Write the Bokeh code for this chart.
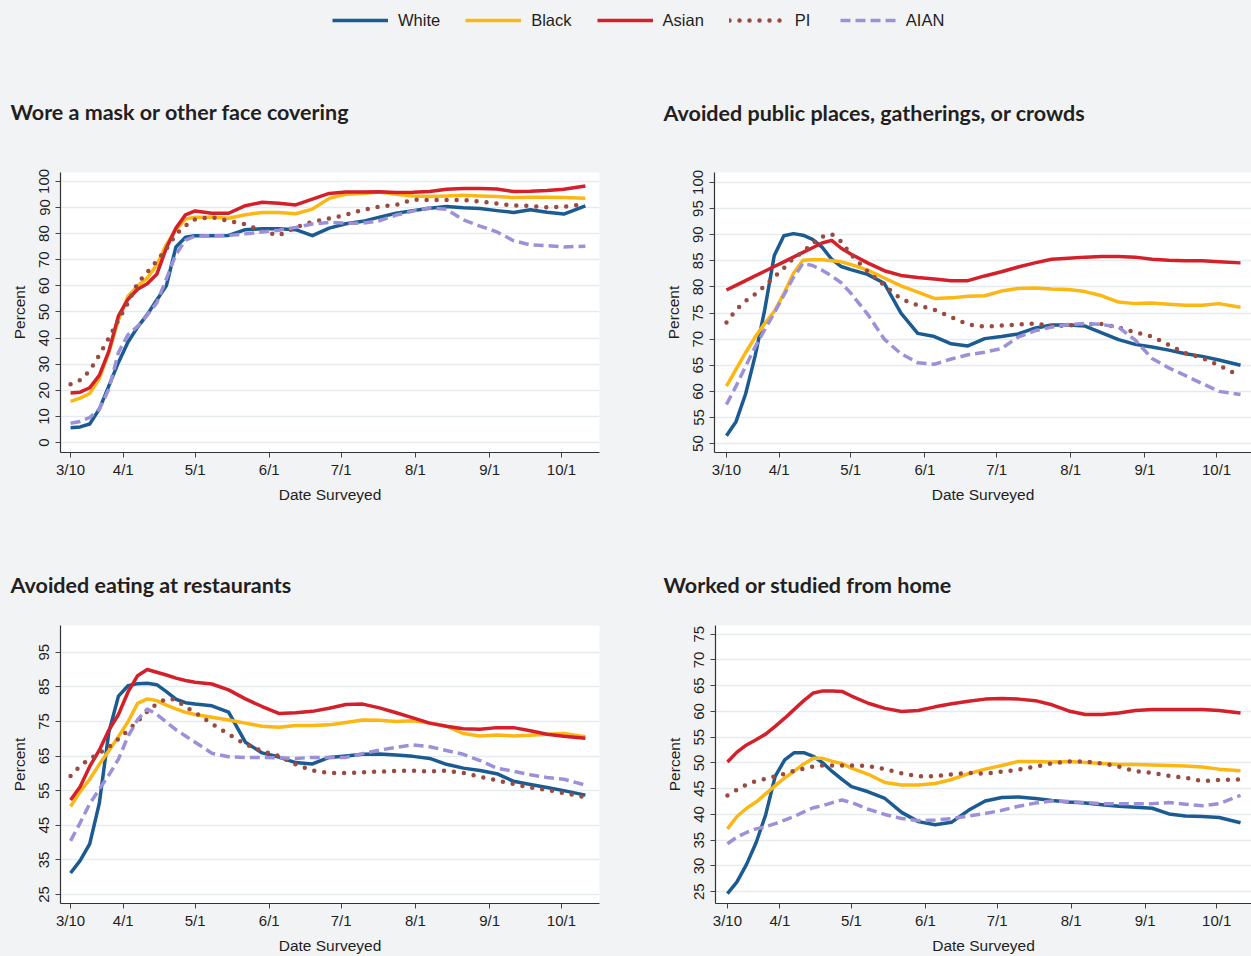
import pandas as pd
from bokeh.plotting import figure
from bokeh.layouts import column, row
from bokeh.models import FixedTicker, Legend, LegendItem, Range1d
from bokeh.embed import file_html
from bokeh.resources import INLINE

# ---------------- data ----------------
DATES = ["3/10", "3/14", "3/18", "3/22", "3/26", "3/30", "4/3", "4/7", "4/11", "4/15",
         "4/19", "4/23", "4/27", "5/1", "5/8", "5/15", "5/22", "5/29", "6/5", "6/12",
         "6/19", "6/26", "7/3", "7/10", "7/17", "7/24", "7/31", "8/7", "8/14", "8/21",
         "8/28", "9/4", "9/11", "9/18", "9/25", "10/2", "10/11"]
TICK_LABELS = ["3/10", "4/1", "5/1", "6/1", "7/1", "8/1", "9/1", "10/1"]
GROUPS = ["White", "Black", "Asian", "PI", "AIAN"]

MASK_WHITE = [5.7, 6.0, 7.1, 12.8, 21.7, 30.7, 38.5, 44.2, 49.0, 54.6, 60.0, 74.9, 78.6, 79.2,
              79.2, 79.3, 81.5, 81.9, 81.9, 81.5, 79.2, 82.1, 83.8, 84.7, 86.3, 87.8, 88.8, 89.7,
              90.4, 89.9, 89.6, 88.8, 88.1, 89.1, 88.2, 87.5, 90.6]
MASK_BLACK = [15.8, 17.0, 18.8, 24.5, 34.6, 47.0, 56.0, 60.0, 63.0, 68.0, 75.8, 81.5, 85.6, 86.3,
              86.3, 85.9, 87.2, 88.1, 88.1, 87.6, 89.4, 93.5, 95.1, 95.4, 95.9, 95.1, 94.4, 94.2,
              94.4, 94.7, 94.4, 94.2, 93.8, 93.9, 93.9, 93.8, 93.5]
MASK_ASIAN = [19.0, 19.3, 21.0, 25.7, 35.0, 48.5, 54.9, 58.7, 60.8, 64.4, 74.5, 82.1, 87.2, 88.7,
              87.8, 87.8, 90.7, 92.0, 91.6, 91.0, 93.2, 95.4, 95.9, 95.9, 96.0, 95.7, 95.8, 96.1,
              97.0, 97.3, 97.3, 97.1, 96.1, 96.2, 96.5, 97.0, 98.2]
MASK_PI = [22.3, 23.9, 27.5, 33.5, 40.0, 47.0, 53.5, 61.0, 65.2, 69.5, 74.1, 79.7, 83.0, 85.5,
           86.3, 84.9, 83.6, 81.0, 79.3, 82.4, 84.5, 85.8, 87.2, 89.1, 90.3, 91.0, 93.0, 92.9,
           92.9, 92.9, 92.3, 91.5, 90.8, 90.6, 90.1, 90.3, 91.3]
MASK_AIAN = [7.4, 8.1, 9.6, 12.8, 20.5, 34.5, 41.3, 44.5, 48.8, 53.5, 62.7, 72.0, 77.5, 79.0,
             79.2, 79.3, 79.9, 80.6, 81.3, 82.4, 83.7, 84.3, 84.0, 84.0, 84.9, 87.1, 88.6, 89.9,
             89.3, 85.3, 82.9, 80.7, 77.3, 75.7, 75.4, 74.9, 75.2]

CROWD_WHITE = [51.5, 54.2, 59.5, 66.8, 75.6, 86.0, 89.8, 90.2, 89.9, 89.1, 87.6, 85.3, 83.9, 83.3,
               82.4, 80.7, 75.0, 71.1, 70.5, 69.1, 68.7, 70.1, 70.5, 71.0, 72.1, 72.7, 72.7, 72.5,
               71.2, 69.9, 69.0, 68.5, 67.9, 67.2, 66.7, 66.0, 65.0]
CROWD_BLACK = [61.0, 64.2, 67.4, 70.4, 73.0, 75.3, 78.7, 82.6, 85.1, 85.2, 85.2, 85.0, 84.8, 84.3,
               83.2, 81.7, 80.2, 79.0, 77.8, 77.9, 78.2, 78.3, 79.2, 79.7, 79.8, 79.6, 79.5, 79.1,
               78.3, 77.1, 76.8, 76.9, 76.7, 76.5, 76.5, 76.8, 76.1]
CROWD_ASIAN = [79.4, 80.3, 81.2, 82.1, 83.0, 83.9, 84.8, 85.7, 86.6, 87.5, 88.4, 88.9, 87.4, 86.3,
               84.6, 83.1, 82.2, 81.8, 81.5, 81.2, 81.2, 82.1, 82.9, 83.8, 84.6, 85.3, 85.5, 85.7,
               85.8, 85.8, 85.7, 85.3, 85.1, 85.0, 85.0, 84.8, 84.6]
CROWD_PI = [73.2, 75.6, 77.3, 78.6, 80.2, 81.9, 83.6, 85.5, 86.7, 88.3, 89.6, 90.1, 88.7, 86.2,
            83.0, 80.3, 77.7, 76.5, 75.6, 74.2, 72.8, 72.4, 72.6, 72.8, 73.0, 72.5, 72.6, 72.9,
            72.9, 72.2, 71.3, 70.5, 68.9, 67.3, 66.4, 65.0, 62.9]
CROWD_AIAN = [57.5, 61.0, 64.8, 68.5, 71.8, 75.0, 78.4, 81.8, 84.5, 84.1, 83.2, 82.1, 80.8, 78.8,
              74.8, 70.0, 67.2, 65.5, 65.2, 66.2, 67.0, 67.5, 68.2, 70.4, 71.6, 72.3, 72.8, 73.0,
              72.8, 72.3, 69.8, 66.3, 64.5, 63.0, 61.5, 60.0, 59.4]

REST_WHITE = [31.2, 34.8, 39.6, 51.3, 71.9, 82.3, 85.3, 85.9, 86.0, 85.6, 83.6, 81.4, 80.4, 80.0,
              79.5, 77.7, 69.0, 65.9, 64.7, 63.1, 62.7, 64.6, 65.0, 65.5, 65.6, 65.3, 64.9, 64.3,
              62.6, 61.5, 60.8, 59.9, 57.7, 56.8, 55.9, 55.0, 53.7]
REST_BLACK = [50.4, 54.7, 58.3, 62.6, 66.5, 70.6, 74.9, 80.2, 81.5, 81.0, 79.7, 78.6, 77.6, 77.0,
              76.2, 75.4, 74.5, 73.6, 73.3, 73.8, 73.8, 74.0, 74.7, 75.4, 75.3, 75.0, 75.2, 74.5,
              73.6, 71.5, 70.8, 71.1, 70.8, 71.0, 71.3, 71.5, 70.6]
REST_ASIAN = [52.3, 56.1, 62.0, 66.7, 72.5, 77.0, 83.5, 88.2, 90.0, 89.2, 88.4, 87.5, 86.8, 86.3,
              85.8, 84.1, 81.5, 79.3, 77.3, 77.5, 77.9, 78.8, 79.9, 80.0, 78.9, 77.5, 76.0, 74.5,
              73.6, 72.9, 72.7, 73.2, 73.2, 72.3, 71.3, 70.7, 70.1]
REST_PI = [59.2, 62.1, 64.2, 65.8, 67.6, 69.9, 72.4, 75.0, 77.8, 80.1, 81.5, 81.3, 79.2, 77.6,
           74.3, 71.3, 68.4, 66.4, 65.0, 62.6, 60.8, 60.1, 60.1, 60.3, 60.5, 60.7, 60.8, 60.5,
           60.8, 60.1, 59.0, 58.0, 56.9, 55.9, 55.2, 54.3, 53.1]
REST_AIAN = [40.5, 45.7, 51.2, 55.4, 59.5, 64.1, 70.7, 75.5, 78.6, 77.0, 74.8, 72.6, 70.8, 69.0,
             65.8, 64.8, 64.6, 64.6, 64.5, 64.3, 64.6, 64.6, 64.6, 65.7, 66.7, 67.5, 68.2, 67.7,
             66.6, 65.5, 63.7, 61.5, 60.6, 59.6, 58.8, 58.3, 56.6]

HOME_WHITE = [24.6, 26.9, 30.3, 34.5, 39.9, 47.4, 50.6, 52.0, 52.0, 51.3, 50.0, 48.3, 46.8, 45.4,
              44.4, 43.1, 40.4, 38.6, 38.0, 38.5, 40.8, 42.6, 43.3, 43.4, 43.1, 42.7, 42.4, 42.2,
              41.9, 41.6, 41.4, 41.2, 40.1, 39.7, 39.6, 39.4, 38.4]
HOME_BLACK = [37.2, 39.6, 41.2, 42.4, 44.0, 45.6, 47.1, 48.4, 49.8, 50.9, 50.9, 50.3, 49.9, 49.0,
              47.8, 46.2, 45.7, 45.7, 46.0, 46.8, 47.9, 48.8, 49.5, 50.3, 50.3, 50.2, 50.3, 50.1,
              49.9, 49.7, 49.7, 49.6, 49.5, 49.4, 49.2, 48.8, 48.5]
HOME_ASIAN = [50.2, 52.1, 53.5, 54.5, 55.6, 57.1, 58.7, 60.4, 62.1, 63.6, 64.0, 64.0, 63.9, 63.0,
              61.6, 60.6, 60.0, 60.2, 60.9, 61.5, 62.0, 62.4, 62.5, 62.4, 62.1, 61.3, 60.1, 59.4,
              59.4, 59.7, 60.2, 60.4, 60.4, 60.4, 60.4, 60.2, 59.7]
HOME_PI = [43.7, 44.8, 45.8, 46.5, 46.9, 47.4, 47.9, 48.5, 48.9, 49.3, 49.5, 49.5, 49.5, 49.5,
           49.4, 48.8, 48.0, 47.4, 47.4, 47.8, 48.1, 47.9, 48.3, 48.7, 49.3, 49.9, 50.3, 50.3,
           49.9, 49.3, 48.4, 48.1, 47.5, 47.1, 46.5, 46.7, 46.8]
HOME_AIAN = [34.3, 35.6, 36.5, 37.2, 37.6, 38.2, 38.9, 39.6, 40.5, 41.3, 41.7, 42.3, 42.8, 42.3,
             41.0, 40.0, 39.2, 38.8, 38.9, 39.2, 39.7, 40.2, 40.8, 41.6, 42.2, 42.6, 42.5, 42.3,
             42.1, 42.1, 42.1, 42.1, 42.3, 42.0, 41.7, 42.1, 43.7]

MASK_TICKS = [0, 10, 20, 30, 40, 50, 60, 70, 80, 90, 100]
CROWD_TICKS = [50, 55, 60, 65, 70, 75, 80, 85, 90, 95, 100]
REST_TICKS = [25, 35, 45, 55, 65, 75, 85, 95]
HOME_TICKS = [25, 30, 35, 40, 45, 50, 55, 60, 65, 70, 75]

# ---------------- styles ----------------
BG = "#f2f3f5"
TEXT = "#1e1e1e"
STYLE = {
    "White": dict(line_color="#1b5b92", line_width=3.5),
    "Black": dict(line_color="#fdb714", line_width=3.5),
    "Asian": dict(line_color="#d4202a", line_width=3.5),
    "PI": dict(line_color="#9b4a40", line_width=4.5, line_dash="0 10", line_cap="round"),
    "AIAN": dict(line_color="#9c91d8", line_width=3.5, line_dash="10 5"),
}


def doy(labels):
    return pd.to_datetime(["2020/" + s for s in labels]).dayofyear.tolist()


X = doy(DATES)
TICK_POS = doy(TICK_LABELS)


def panel(title, series, yr, yticks, xr, width, height, bl, br, bt, bb, title_offset, standoff):
    p = figure(width=width, height=height, x_range=Range1d(*xr), y_range=Range1d(*yr),
               output_backend="svg", toolbar_location=None,
               min_border_left=bl, min_border_right=br, min_border_top=bt, min_border_bottom=bb,
               background_fill_color="white", border_fill_color=BG, outline_line_color=None)
    p.title.text = title
    p.title.align = "left"
    p.title.offset = title_offset
    p.title.standoff = standoff
    p.title.text_font = "Lato"
    p.title.text_font_style = "bold"
    p.title.text_font_size = "21.5px"
    p.title.text_color = "#231f20"

    p.xaxis.ticker = FixedTicker(ticks=TICK_POS)
    p.xaxis.major_label_overrides = {pos: lab for pos, lab in zip(TICK_POS, TICK_LABELS)}
    p.yaxis.ticker = FixedTicker(ticks=yticks)
    p.yaxis.major_label_orientation = "vertical"
    p.xaxis.axis_label = "Date Surveyed"
    p.yaxis.axis_label = "Percent"
    for ax in (p.xaxis[0], p.yaxis[0]):
        ax.axis_line_color = "#333333"
        ax.axis_line_width = 1.2
        ax.major_tick_line_color = "#444444"
        ax.major_tick_out = 5
        ax.major_tick_in = 0
        ax.minor_tick_line_color = None
        ax.major_label_text_font = "Liberation Sans"
        ax.major_label_text_font_size = "15px"
        ax.major_label_text_color = TEXT
        ax.axis_label_text_font = "Liberation Sans"
        ax.axis_label_text_font_size = "15.5px"
        ax.axis_label_text_font_style = "normal"
        ax.axis_label_text_color = TEXT
    p.xaxis.major_label_standoff = 3
    p.xaxis.axis_label_standoff = 5
    p.yaxis.major_label_standoff = 6
    p.yaxis.axis_label_standoff = 9
    p.xgrid.visible = False
    p.ygrid.ticker = FixedTicker(ticks=yticks)
    p.ygrid.grid_line_color = "#e6ecee"
    p.ygrid.grid_line_width = 1.5

    for g, ys in zip(GROUPS, series):
        p.line(X, ys, line_join="round", **STYLE[g])
    return p


p1 = panel("Wore a mask or other face covering",
           [MASK_WHITE, MASK_BLACK, MASK_ASIAN, MASK_PI, MASK_AIAN],
           (-3.8, 103.4), MASK_TICKS, (65.8, 290.9), 630, 470, 60, 31, 132, 56, -50, 95)
p2 = panel("Avoided public places, gatherings, or crowds",
           [CROWD_WHITE, CROWD_BLACK, CROWD_ASIAN, CROWD_PI, CROWD_AIAN],
           (48.3, 101.9), CROWD_TICKS, (65.0, 289.6), 621, 470, 84, 0, 130, 58, -51, 94)
p3 = panel("Avoided eating at restaurants",
           [REST_WHITE, REST_BLACK, REST_ASIAN, REST_PI, REST_AIAN],
           (22.4, 102.7), REST_TICKS, (65.8, 290.9), 630, 446, 60, 31, 113, 51, -50, 55)
p4 = panel("Worked or studied from home",
           [HOME_WHITE, HOME_BLACK, HOME_ASIAN, HOME_PI, HOME_AIAN],
           (22.7, 76.7), HOME_TICKS, (65.0, 289.6), 621, 446, 85, 0, 115, 49, -52, 56)

# ---------------- legend strip ----------------
# the strip's y range lies far above the data, so only the legend entries show
leg = figure(width=1251, height=40, output_backend="svg", toolbar_location=None,
             x_range=Range1d(0, 1), y_range=Range1d(1000, 1001), min_border=0,
             outline_line_color=None, background_fill_color=BG, border_fill_color=BG)
leg.axis.visible = False
leg.grid.visible = False
items = []
for g, ys in zip(GROUPS, [MASK_WHITE, MASK_BLACK, MASK_ASIAN, MASK_PI, MASK_AIAN]):
    r = leg.line(X, ys, **STYLE[g])
    items.append(LegendItem(label=g, renderers=[r]))
legend = Legend(items=items, orientation="horizontal", location=(332, 10),
                glyph_width=56, glyph_height=20, label_height=20, label_standoff=10,
                spacing=25, padding=0, margin=0, border_line_color=None,
                background_fill_alpha=0, label_text_font="Liberation Sans",
                label_text_font_size="16.5px", label_text_color=TEXT)
leg.add_layout(legend)

layout = column(leg, row(p1, p2, styles={"background-color": BG}),
                row(p3, p4, styles={"background-color": BG}),
                styles={"background-color": BG})
open("out.html", "w").write(file_html(layout, INLINE))
